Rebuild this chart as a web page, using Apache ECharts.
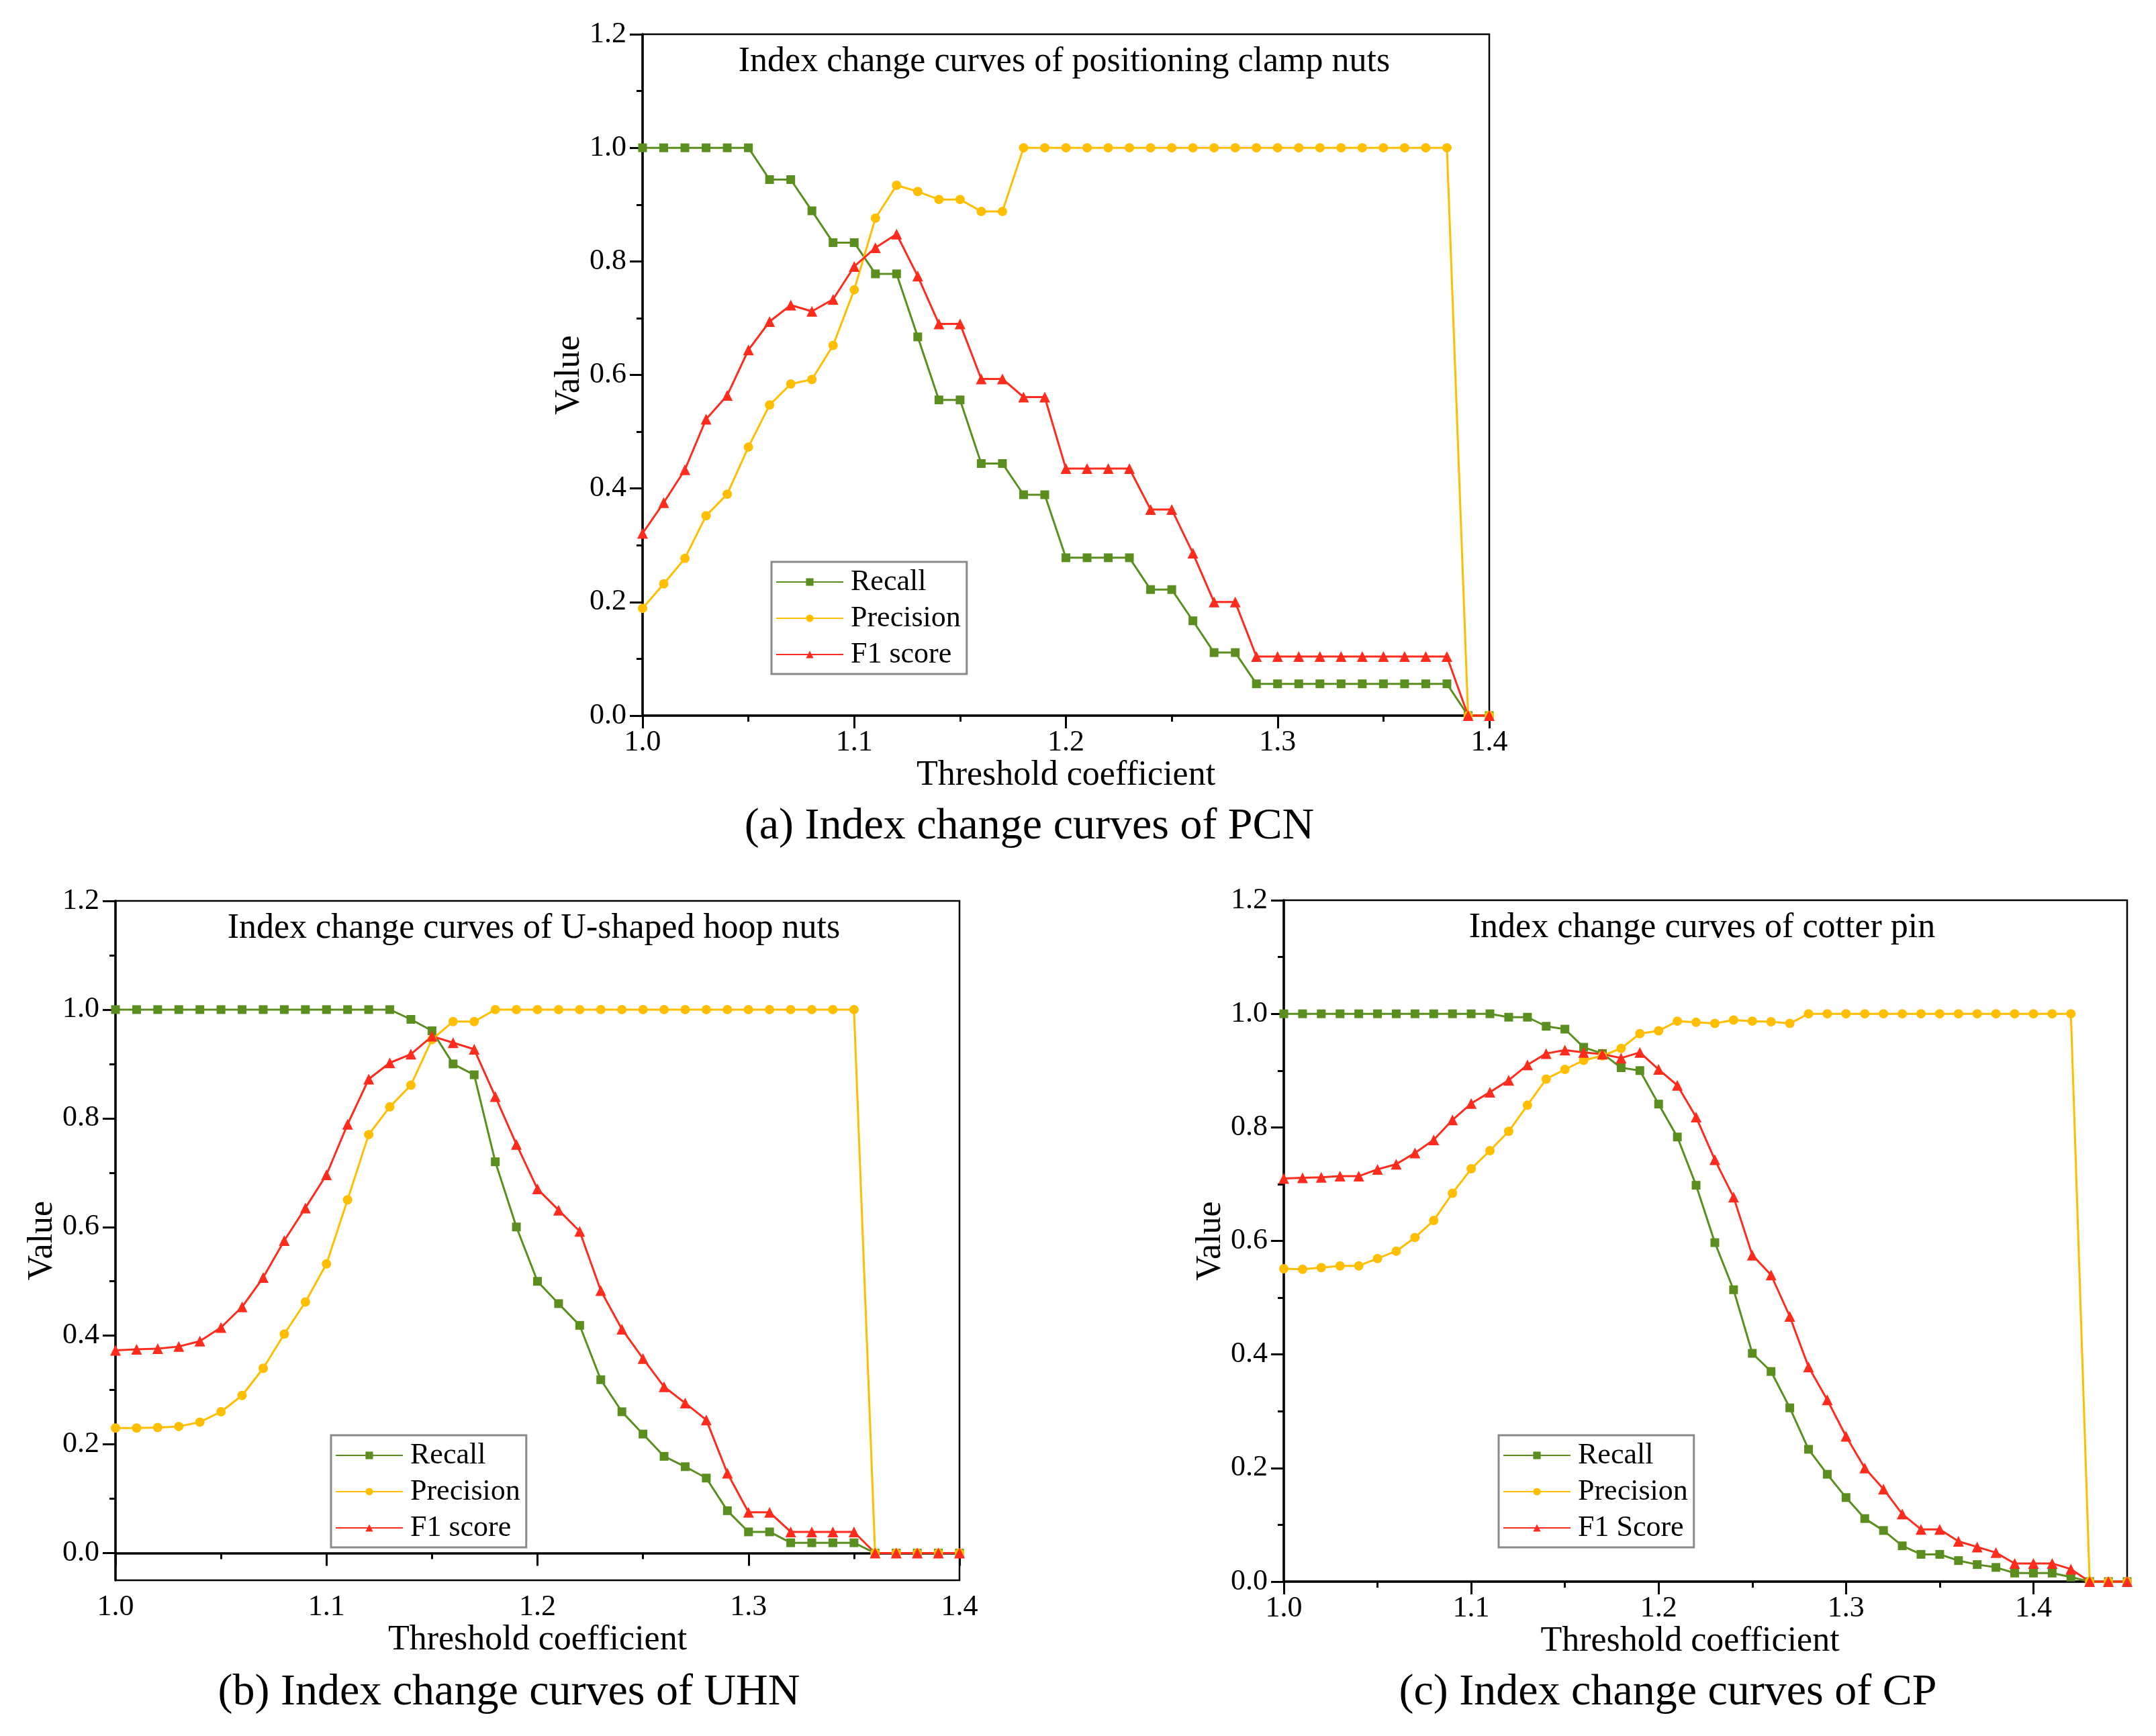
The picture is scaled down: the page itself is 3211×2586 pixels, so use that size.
<!DOCTYPE html>
<html>
<head>
<meta charset="utf-8">
<script src="https://cdn.jsdelivr.net/npm/echarts@6.0.0/dist/echarts.min.js"></script>
<style>
html,body{margin:0;padding:0;background:#fff;}
#chart{width:3211px;height:2586px;}
</style>
</head>
<body>
<div id="chart"></div>
<script>
// ---------- data ----------
const xsAB = [1.00,1.01,1.02,1.03,1.04,1.05,1.06,1.07,1.08,1.09,1.10,1.11,1.12,1.13,1.14,1.15,1.16,1.17,1.18,1.19,1.20,
  1.21,1.22,1.23,1.24,1.25,1.26,1.27,1.28,1.29,1.30,1.31,1.32,1.33,1.34,1.35,1.36,1.37,1.38,1.39,1.40];
const xsC = [1.00,1.01,1.02,1.03,1.04,1.05,1.06,1.07,1.08,1.09,1.10,1.11,1.12,1.13,1.14,1.15,1.16,1.17,1.18,1.19,1.20,
  1.21,1.22,1.23,1.24,1.25,1.26,1.27,1.28,1.29,1.30,1.31,1.32,1.33,1.34,1.35,1.36,1.37,1.38,1.39,1.40,1.41,1.42,1.43,1.44,1.45];

// (a) positioning clamp nuts
const recallA = [1,1,1,1,1,1,0.944,0.944,0.889,0.833,0.833,0.778,0.778,0.667,0.556,0.556,0.444,0.444,0.389,0.389,
  0.278,0.278,0.278,0.278,0.222,0.222,0.167,0.111,0.111,0.056,0.056,0.056,0.056,0.056,0.056,0.056,0.056,0.056,0.056,0,0];
const precisionA = [0.189,0.232,0.277,0.352,0.390,0.473,0.547,0.584,0.592,0.652,0.750,0.876,0.934,0.923,0.909,0.909,0.888,0.888,
  1,1,1,1,1,1,1,1,1,1,1,1,1,1,1,1,1,1,1,1,1,0,0];
const f1A = [0.321,0.375,0.433,0.522,0.564,0.644,0.694,0.723,0.712,0.733,0.791,0.824,0.848,0.774,0.690,0.690,0.593,0.593,0.561,0.561,
  0.435,0.435,0.435,0.435,0.363,0.363,0.286,0.200,0.200,0.104,0.104,0.104,0.104,0.104,0.104,0.104,0.104,0.104,0.104,0,0];

// (b) U-shaped hoop nuts
const recallB = [1,1,1,1,1,1,1,1,1,1,1,1,1,1,0.982,0.961,0.900,0.880,0.720,0.600,0.500,0.459,0.419,0.319,0.260,0.219,
  0.178,0.159,0.138,0.078,0.039,0.039,0.019,0.019,0.019,0.019,0,0,0,0,0];
const precisionB = [0.230,0.230,0.231,0.233,0.241,0.260,0.290,0.340,0.403,0.462,0.532,0.650,0.770,0.821,0.861,0.945,0.978,0.978,
  1,1,1,1,1,1,1,1,1,1,1,1,1,1,1,1,1,1,0,0,0,0,0];
const f1B = [0.373,0.375,0.376,0.380,0.390,0.415,0.453,0.507,0.575,0.635,0.696,0.789,0.872,0.902,0.918,0.951,0.939,0.927,
  0.840,0.752,0.670,0.631,0.592,0.483,0.412,0.358,0.306,0.276,0.245,0.147,0.075,0.075,0.039,0.039,0.039,0.039,0,0,0,0,0];

// (c) cotter pin
const recallC = [1,1,1,1,1,1,1,1,1,1,1,1,0.994,0.994,0.978,0.973,0.941,0.930,0.905,0.900,0.841,0.783,0.698,0.597,0.514,
  0.402,0.370,0.306,0.233,0.189,0.148,0.111,0.090,0.063,0.048,0.048,0.037,0.030,0.025,0.015,0.015,0.015,0.008,0,0,0];
const precisionC = [0.551,0.550,0.553,0.556,0.556,0.569,0.582,0.606,0.636,0.684,0.727,0.759,0.793,0.839,0.885,0.902,0.918,
  0.926,0.939,0.965,0.970,0.987,0.985,0.983,0.989,0.987,0.986,0.983,1,1,1,1,1,1,1,1,1,1,1,1,1,1,1,0,0,0];
const f1C = [0.710,0.711,0.712,0.714,0.714,0.726,0.735,0.755,0.778,0.813,0.842,0.862,0.883,0.910,0.930,0.936,0.932,0.929,
  0.922,0.932,0.902,0.874,0.818,0.743,0.677,0.575,0.540,0.467,0.378,0.320,0.256,0.200,0.163,0.119,0.092,0.092,0.071,
  0.061,0.051,0.032,0.032,0.032,0.022,0,0,0];

// tick labels
const yTickValues = [0, 0.2, 0.4, 0.6, 0.8, 1.0, 1.2];
const yMinorValues = [0.1, 0.3, 0.5, 0.7, 0.9, 1.1];
const xTickValues = [1.0, 1.1, 1.2, 1.3, 1.4];
const xMinorValues = [1.05, 1.15, 1.25, 1.35];

const innerTitles = ['Index change curves of positioning clamp nuts', 'Index change curves of U-shaped hoop nuts', 'Index change curves of cotter pin'];
const captions = ['(a) Index change curves of PCN', '(b) Index change curves of UHN', '(c) Index change curves of CP'];
const legendNames = [['Recall', 'Precision', 'F1 score'], ['Recall', 'Precision', 'F1 score'], ['Recall', 'Precision', 'F1 Score']];

// ---------- style ----------
const FONT = "'Liberation Serif', 'Times New Roman', serif";
const GREEN = '#5a8e1e', YELLOW = '#ffbf00', RED = '#ff2b1c';

const grids = [
  {left: 957, top: 51, width: 1261, height: 1015},
  {left: 172, top: 1342, width: 1257, height: 1012},
  {left: 1912, top: 1341, width: 1256, height: 1015}
];

const fmt = v => Number(v).toFixed(1);
const lineAxis = {show: true, lineStyle: {color: '#000', width: 3.5}};
const labelStyle = {color: '#000', fontFamily: FONT, fontSize: 44};
const nameStyle = {color: '#000', fontFamily: FONT, fontSize: 52};

function xAxisBase(gi, max, extra) {
  return Object.assign({
    type: 'value', gridIndex: gi, min: 1.0, max: max, position: 'bottom',
    axisLine: lineAxis,
    axisTick: {show: true, inside: false, length: 19, lineStyle: {color: '#000', width: 3}},
    splitLine: {show: false},
    axisLabel: Object.assign({margin: 18, formatter: fmt}, labelStyle),
    name: 'Threshold coefficient', nameLocation: 'middle', nameGap: 62,
    nameTextStyle: Object.assign({}, nameStyle)
  }, extra);
}
function yAxisBase(gi, min, extra) {
  return Object.assign({
    type: 'value', gridIndex: gi, min: min, max: 1.2, position: 'left',
    axisLine: lineAxis,
    axisTick: {show: true, inside: false, length: 19, lineStyle: {color: '#000', width: 3}},
    splitLine: {show: false},
    axisLabel: Object.assign({margin: 24, formatter: fmt}, labelStyle),
    name: 'Value', nameLocation: 'middle', nameGap: 81, nameRotate: 90,
    nameTextStyle: Object.assign({}, nameStyle)
  }, extra);
}
const minorTickStd = {show: true, splitNumber: 2, length: 9, lineStyle: {color: '#000', width: 3}};

const xAxes = [
  xAxisBase(0, 1.4, {interval: 0.1, minorTick: minorTickStd}),
  xAxisBase(1, 1.4, {interval: 0.1, minorTick: minorTickStd}),
  xAxisBase(2, 1.45, {
    axisTick: {show: true, length: 19, customValues: xTickValues, lineStyle: {color: '#000', width: 3}},
    axisLabel: Object.assign({margin: 18, formatter: fmt, customValues: xTickValues}, labelStyle),
    nameTextStyle: Object.assign({padding: [0, 46, 0, 0]}, nameStyle)
  }),
  {type: 'value', gridIndex: 2, min: 1.0, max: 1.45, position: 'bottom',
   axisLine: {show: false}, axisLabel: {show: false}, splitLine: {show: false},
   axisTick: {show: true, length: 9, customValues: xMinorValues, lineStyle: {color: '#000', width: 3}}}
];
const yAxes = [
  yAxisBase(0, 0, {interval: 0.2, minorTick: minorTickStd}),
  yAxisBase(1, -0.05, {
    axisTick: {show: true, length: 19, customValues: yTickValues, lineStyle: {color: '#000', width: 3}},
    axisLabel: Object.assign({margin: 24, formatter: fmt, customValues: yTickValues}, labelStyle)
  }),
  yAxisBase(2, 0, {interval: 0.2, minorTick: minorTickStd}),
  {type: 'value', gridIndex: 1, min: -0.05, max: 1.2, position: 'left',
   axisLine: {show: false}, axisLabel: {show: false}, splitLine: {show: false},
   axisTick: {show: true, length: 9, customValues: yMinorValues, lineStyle: {color: '#000', width: 3}}}
];

function pairs(xs, ys) { return xs.map((x, i) => [x, ys[i]]); }
function mkSeries(name, gi, xs, ys, color, symbol, size) {
  return {
    type: 'line', name: name, xAxisIndex: gi, yAxisIndex: gi,
    data: pairs(xs, ys), symbol: symbol, symbolSize: size, showSymbol: true,
    clip: false,
    lineStyle: {color: color, width: 3},
    itemStyle: {color: color},
    emphasis: {disabled: true}
  };
}
const seriesData = [
  [recallA, precisionA, f1A, xsAB],
  [recallB, precisionB, f1B, xsAB],
  [recallC, precisionC, f1C, xsC]
];
const series = [];
seriesData.forEach((d, gi) => {
  const n = legendNames[gi];
  series.push(mkSeries(n[0], gi, d[3], d[0], GREEN, 'rect', 13));
  series.push(mkSeries(n[1], gi, d[3], d[1], YELLOW, 'circle', 14));
  series.push(mkSeries(n[2], gi, d[3], d[2], RED, 'triangle', 16));
});

const legendPos = [{left: 1149, top: 837}, {left: 493, top: 2138}, {left: 2232, top: 2138}];
const legends = legendPos.map((p, i) => ({
  left: p.left, top: p.top, orient: 'vertical',
  data: legendNames[i],
  itemWidth: 100, itemHeight: 14, itemGap: 10,
  padding: [8, 9, 7, 6],
  borderColor: '#8a8a8a', borderWidth: 3, backgroundColor: '#fff',
  selectedMode: false,
  textStyle: {color: '#000', fontFamily: FONT, fontSize: 44, lineHeight: 44, padding: [0, 0, 0, 6]}
}));

const titlePos = [[1585, 92], [795, 1383], [2535, 1382]];
const captionPos = [[1533, 1232], [758, 2522], [2484, 2522]];
const graphics = [];
innerTitles.forEach((t, i) => graphics.push({
  type: 'text', x: titlePos[i][0], y: titlePos[i][1], z: 10,
  style: {text: t, fill: '#000', fontFamily: FONT, fontSize: 52, align: 'center', verticalAlign: 'middle'}
}));
captions.forEach((t, i) => graphics.push({
  type: 'text', x: captionPos[i][0], y: captionPos[i][1], z: 10,
  style: {text: t, fill: '#000', fontFamily: FONT, fontSize: 66, align: 'center', verticalAlign: 'middle'}
}));

const chart = echarts.init(document.getElementById('chart'), null, {renderer: 'canvas'});
chart.setOption({
  backgroundColor: '#fff',
  animation: false,
  grid: grids.map(g => Object.assign({show: true, borderColor: '#000', borderWidth: 2.5, backgroundColor: 'transparent', containLabel: false}, g)),
  xAxis: xAxes,
  yAxis: yAxes,
  legend: legends,
  series: series,
  graphic: graphics
});
</script>
</body>
</html>
